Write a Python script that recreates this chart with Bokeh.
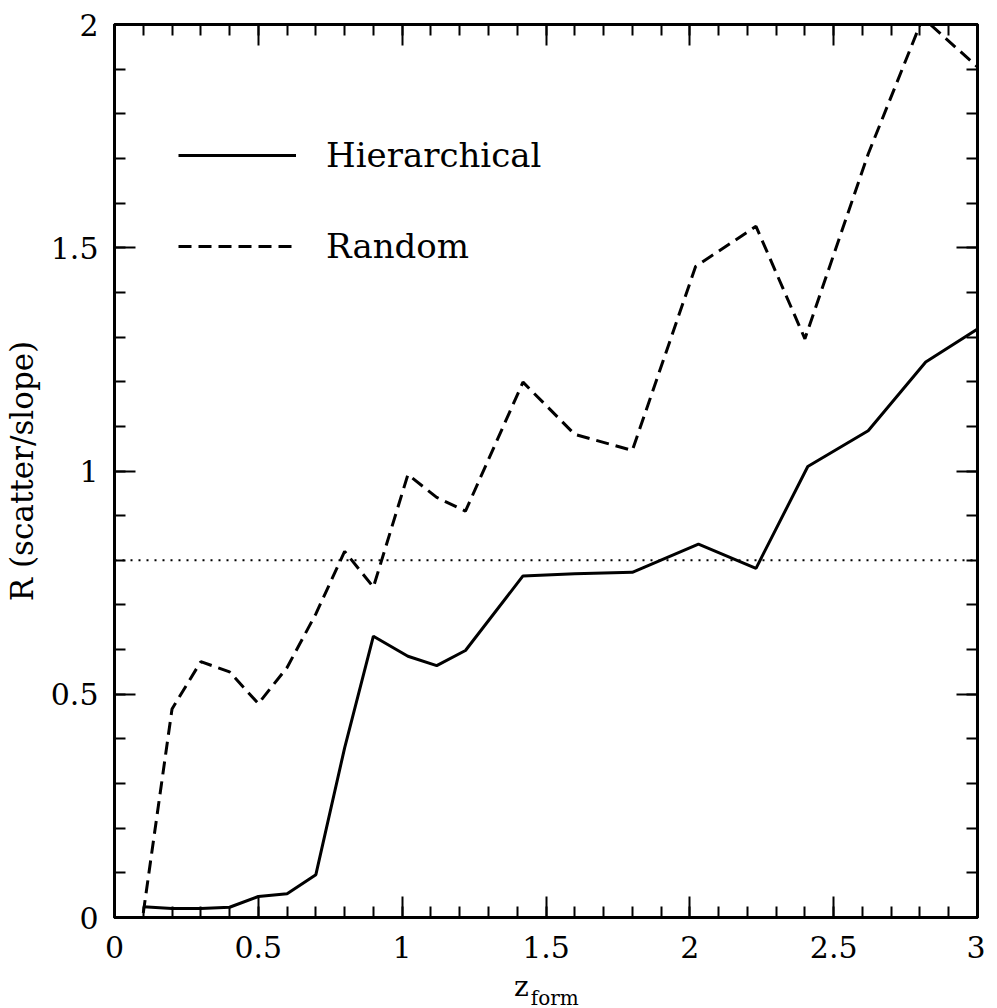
from bokeh.plotting import figure
from bokeh.models import (Range1d, LinearAxis, SingleIntervalTicker, CustomJSTickFormatter,
                          Span, Legend, LegendItem, Div)
from bokeh.layouts import column
from bokeh.embed import file_html
from bokeh.resources import INLINE

# ---- data ----
z_hier = [0.1, 0.2, 0.3, 0.4, 0.5, 0.6, 0.7, 0.8, 0.9, 1.02, 1.12, 1.22, 1.42, 1.6,
          1.8, 2.03, 2.23, 2.41, 2.62, 2.82, 3.0]
r_hier = [0.024, 0.02, 0.02, 0.023, 0.047, 0.053, 0.096, 0.38, 0.63, 0.585, 0.564, 0.598,
          0.765, 0.77, 0.773, 0.836, 0.782, 1.01, 1.09, 1.244, 1.318]
z_rand = [0.1, 0.2, 0.3, 0.4, 0.5, 0.6, 0.7, 0.8, 0.9, 1.02, 1.12, 1.22, 1.42, 1.6,
          1.8, 2.02, 2.23, 2.4, 2.62, 2.81, 3.0]
r_rand = [0.01, 0.467, 0.573, 0.55, 0.479, 0.56, 0.68, 0.82, 0.74, 0.992, 0.941, 0.91,
          1.199, 1.082, 1.046, 1.458, 1.548, 1.296, 1.71, 2.015, 1.905]
series_names = ["Hierarchical", "Random"]
r_threshold = 0.8
x_title = "z"
x_title_sub = "form"
y_title = "R (scatter/slope)"

FONT = "DejaVu Serif"

p = figure(width=985, height=971, output_backend="svg", toolbar_location=None,
           x_range=Range1d(0, 3), y_range=Range1d(0, 2),
           min_border_left=108, min_border_right=8, min_border_top=24, min_border_bottom=54)
p.grid.visible = False
p.outline_line_color = "black"
p.outline_line_width = 3
p.background_fill_color = "white"
p.border_fill_color = "white"

p.add_layout(LinearAxis(), "above")
p.add_layout(LinearAxis(), "right")


def style(ax, labels=True):
    ax.ticker = SingleIntervalTicker(interval=0.5, num_minor_ticks=5)
    ax.formatter = CustomJSTickFormatter(code="return String(Math.round(tick*10)/10);")
    ax.major_tick_in = 21
    ax.major_tick_out = 0
    ax.minor_tick_in = 11
    ax.minor_tick_out = 0
    ax.axis_line_width = 3
    ax.axis_line_color = "black"
    ax.major_tick_line_width = 2
    ax.minor_tick_line_width = 2
    ax.major_tick_line_color = "black"
    ax.minor_tick_line_color = "black"
    ax.major_label_text_font = FONT
    ax.major_label_text_font_size = "30px"
    ax.major_label_text_color = "black"
    if not labels:
        ax.major_label_text_font_size = "1px"
        ax.major_label_text_color = None
        ax.major_label_standoff = 0


for ax in p.below:
    style(ax)
    ax.major_label_standoff = 18
for ax in p.left:
    style(ax)
    ax.major_label_standoff = 16
    ax.axis_label = y_title
    ax.axis_label_text_font = FONT
    ax.axis_label_text_font_size = "31px"
    ax.axis_label_text_font_style = "normal"
    ax.axis_label_text_color = "black"
    ax.axis_label_standoff = 8
for ax in p.above + p.right:
    style(ax, labels=False)

r1 = p.line(z_hier, r_hier, line_width=3, line_color="black")
r2 = p.line(z_rand, r_rand, line_width=3, line_color="black", line_dash="13 7")

p.add_layout(Span(location=r_threshold, dimension="width", line_color="black",
                  line_width=2, line_dash="2 6"))

legend = Legend(items=[LegendItem(label=series_names[0], renderers=[r1]),
                       LegendItem(label=series_names[1], renderers=[r2])],
                location=(64, 651), glyph_width=118, glyph_height=30, label_height=30,
                spacing=51, label_standoff=30, padding=0, margin=0,
                border_line_color=None, background_fill_alpha=0,
                label_text_font=FONT, label_text_font_size="34px",
                label_text_color="black")
p.add_layout(legend)

xlabel = Div(
    text=(f'<div style="font-family:\'{FONT}\';font-size:28px;line-height:28px;color:black;'
          f'margin-left:509px;white-space:nowrap;position:relative;top:-3px;">{x_title}'
          f'<span style="font-size:20px;position:relative;top:9px;margin-left:2px;">'
          f'{x_title_sub}</span></div>'),
    width=985, height=29)

layout = column(p, xlabel, spacing=0)
open("out.html", "w").write(file_html(layout, INLINE))
